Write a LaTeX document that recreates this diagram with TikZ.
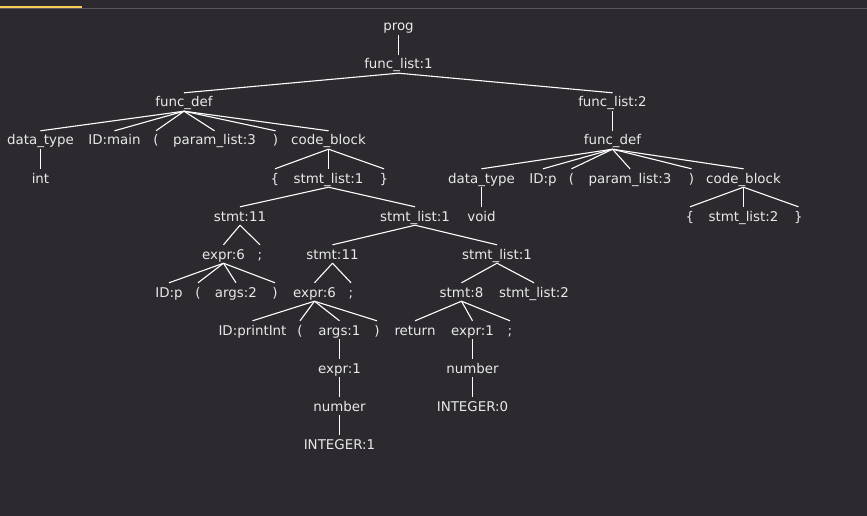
\documentclass[tikz,border=0pt]{standalone}
\usepackage{fontspec}
\setmainfont{DejaVu Sans}
\definecolor{bgcol}{RGB}{44,42,46}
\definecolor{txtcol}{RGB}{232,232,232}
\definecolor{rulecol}{RGB}{88,87,92}
\definecolor{tabcol}{RGB}{250,205,90}
\begin{document}
\begin{tikzpicture}[x=1pt,y=-1pt,
  tn/.style={anchor=base,inner sep=0pt,text height=14pt,text depth=4pt,
    text=txtcol,font=\fontsize{13.4}{16}\selectfont},
  edge/.style={draw=white,line width=1.1pt}]
% canvas, header rule and active tab
\fill[bgcol] (0,0) rectangle (867,516);
\useasboundingbox (0,0) rectangle (867,516);
\fill[rulecol] (0,7.6) rectangle (867,8.8);
\fill[tabcol] (0,6) rectangle (82,8);
% rows: baseline = 31 + 38*n
\def\ra{31}\def\rb{69}\def\rc{107}\def\rd{145}\def\re{183}\def\rf{221}
\def\rg{259}\def\rh{297}\def\ri{335}\def\rj{373}\def\rk{411}\def\rl{449}
% nodes
\node[tn] (prog) at (398.5,\ra) {prog};
\node[tn] (fl1) at (398.5,\rb) {func\_list:1};
\node[tn] (fd1) at (184,\rc) {func\_def};
\node[tn] (fl2) at (612.5,\rc) {func\_list:2};
\node[tn] (dt1) at (40.5,\rd) {data\_type};
\node[tn] (idm) at (114.5,\rd) {ID:main};
\node[tn] (lpa) at (156,\rd) {(};
\node[tn] (pla) at (214.5,\rd) {param\_list:3};
\node[tn] (rpa) at (275.5,\rd) {)};
\node[tn] (cba) at (328.5,\rd) {code\_block};
\node[tn] (fd2) at (612.5,\rd) {func\_def};
\node[tn] (int) at (40.5,\re) {int};
\node[tn] (lba) at (275,\re) {\{};
\node[tn] (sla) at (328.5,\re) {stmt\_list:1};
\node[tn] (rba) at (384,\re) {\}};
\node[tn] (dt2) at (481.5,\re) {data\_type};
\node[tn] (idp) at (543,\re) {ID:p};
\node[tn] (lpb) at (571.5,\re) {(};
\node[tn] (plb) at (630,\re) {param\_list:3};
\node[tn] (rpb) at (691.5,\re) {)};
\node[tn] (cbb) at (743.5,\re) {code\_block};
\node[tn] (sta) at (240,\rf) {stmt:11};
\node[tn] (slb) at (415,\rf) {stmt\_list:1};
\node[tn] (void) at (481.5,\rf) {void};
\node[tn] (lbb) at (690,\rf) {\{};
\node[tn] (slc) at (743.5,\rf) {stmt\_list:2};
\node[tn] (rbb) at (798.5,\rf) {\}};
\node[tn] (exa) at (223.5,\rg) {expr:6};
\node[tn] (sca) at (260,\rg) {;};
\node[tn] (stb) at (332.5,\rg) {stmt:11};
\node[tn] (sld) at (497,\rg) {stmt\_list:1};
\node[tn] (idq) at (169,\rh) {ID:p};
\node[tn] (lpc) at (198,\rh) {(};
\node[tn] (arb) at (236,\rh) {args:2};
\node[tn] (rpc) at (275,\rh) {)};
\node[tn] (exb) at (314.5,\rh) {expr:6};
\node[tn] (scb) at (351,\rh) {;};
\node[tn] (stc) at (461.5,\rh) {stmt:8};
\node[tn] (sle) at (534,\rh) {stmt\_list:2};
\node[tn] (idpi) at (252.5,\ri) {ID:printInt};
\node[tn] (lpd) at (300,\ri) {(};
\node[tn] (ara) at (339.5,\ri) {args:1};
\node[tn] (rpd) at (377,\ri) {)};
\node[tn] (ret) at (415,\ri) {return};
\node[tn] (exc) at (472.5,\ri) {expr:1};
\node[tn] (scc) at (510,\ri) {;};
\node[tn] (exd) at (339.5,\rj) {expr:1};
\node[tn] (nmb) at (472.5,\rj) {number};
\node[tn] (nma) at (339.5,\rk) {number};
\node[tn] (inz) at (472.5,\rk) {INTEGER:0};
\node[tn] (ino) at (339.5,\rl) {INTEGER:1};
% edges
\foreach \p/\c in {prog/fl1, fl1/fd1, fl1/fl2,
  fd1/dt1, fd1/idm, fd1/lpa, fd1/pla, fd1/rpa, fd1/cba, fl2/fd2,
  dt1/int, cba/lba, cba/sla, cba/rba,
  fd2/dt2, fd2/idp, fd2/lpb, fd2/plb, fd2/rpb, fd2/cbb,
  sla/sta, sla/slb, dt2/void, cbb/lbb, cbb/slc, cbb/rbb,
  sta/exa, sta/sca, slb/stb, slb/sld,
  exa/idq, exa/lpc, exa/arb, exa/rpc, stb/exb, stb/scb, sld/stc, sld/sle,
  exb/idpi, exb/lpd, exb/ara, exb/rpd, stc/ret, stc/exc, stc/scc,
  ara/exd, exc/nmb, exd/nma, nmb/inz, nma/ino}
  \draw[edge] (\p.south) -- (\c.north);
\end{tikzpicture}
\end{document}
